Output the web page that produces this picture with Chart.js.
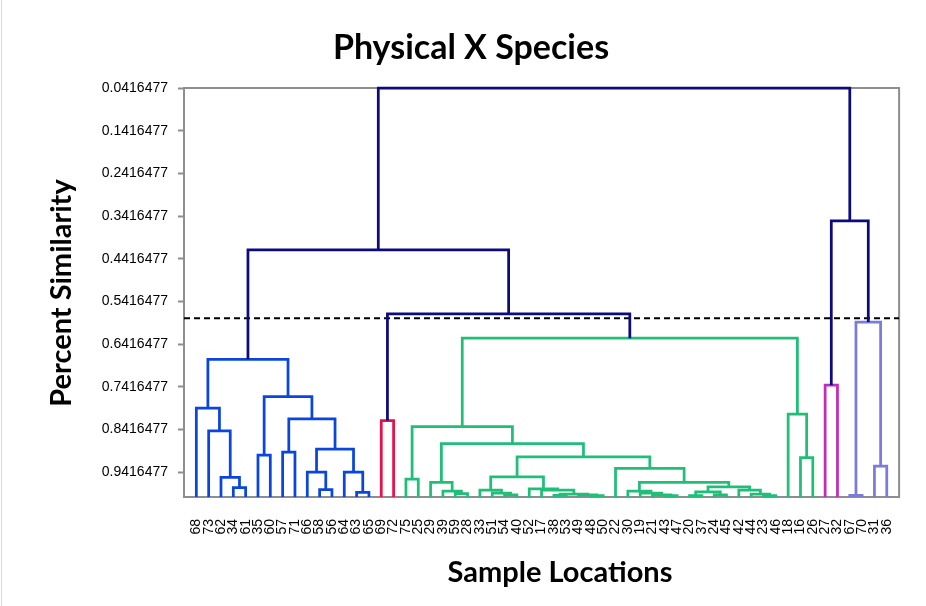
<!DOCTYPE html>
<html>
<head>
<meta charset="utf-8">
<script src="https://cdn.jsdelivr.net/npm/chart.js@4/dist/chart.umd.min.js"></script>
<style>
  body { margin: 0; background: #fff; }
  canvas { display: block; }
</style>
</head>
<body>
<canvas id="dendro" width="926" height="606"></canvas>
<script>
"use strict";

// leaf labels, left to right
const leafLabels = [
  "68", "73", "62", "34", "61", "35", "60", "57", "71", "66", "58", "56", "64", "63", "65",
  "69", "72",
  "75", "25", "29", "39", "59", "28", "33", "51", "54", "40", "52", "17", "38", "53", "49",
  "48", "50", "22", "30", "19", "21", "43", "47", "20", "37", "24", "45", "42", "44", "23",
  "46", "18", "16", "26",
  "27", "32",
  "67", "70", "31", "36"
];

const yTickLabels = [
  "0.0416477", "0.1416477", "0.2416477", "0.3416477", "0.4416477",
  "0.5416477", "0.6416477", "0.7416477", "0.8416477", "0.9416477"
];

// cut line for the clusters
const cutLevel = 0.581;

// merges: [id, left, right, similarity, group]; numbers are leaf positions, strings earlier merges
const merges = [
  ["b1", 4, 5, 0.978, "blue"],
  ["b2", 3, "b1", 0.954, "blue"],
  ["b3", 2, "b2", 0.845, "blue"],
  ["b4", 1, "b3", 0.792, "blue"],
  ["b5", 6, 7, 0.902, "blue"],
  ["b6", 8, 9, 0.895, "blue"],
  ["b7", 11, 12, 0.983, "blue"],
  ["b8", 10, "b7", 0.942, "blue"],
  ["b9", 14, 15, 0.989, "blue"],
  ["b10", 13, "b9", 0.942, "blue"],
  ["b11", "b8", "b10", 0.888, "blue"],
  ["b12", "b6", "b11", 0.817, "blue"],
  ["b13", "b5", "b12", 0.765, "blue"],
  ["b14", "b4", "b13", 0.6775, "blue"],

  ["r1", 16, 17, 0.821, "red"],

  ["g1", 18, 19, 0.958, "green"],
  ["g2", 22, 23, 0.992, "green"],
  ["g3", 21, "g2", 0.986, "green"],
  ["g4", 20, "g3", 0.966, "green"],
  ["g5", 26, 27, 0.995, "green"],
  ["g6", 25, "g5", 0.991, "green"],
  ["g7", 24, "g6", 0.984, "green"],
  ["g8", 30, 31, 0.996, "green"],
  ["g9", 33, 34, 0.997, "green"],
  ["g10", 32, "g9", 0.995, "green"],
  ["g11", "g8", "g10", 0.993, "green"],
  ["g12", 29, "g11", 0.984, "green"],
  ["g13", 28, "g12", 0.981, "green"],
  ["g14", "g7", "g13", 0.953, "green"],
  ["g15", 39, 40, 0.997, "green"],
  ["g16", 38, "g15", 0.995, "green"],
  ["g17", 37, "g16", 0.991, "green"],
  ["g18", 36, "g17", 0.986, "green"],
  ["g19", 41, 42, 0.997, "green"],
  ["g20", 43, 44, 0.995, "green"],
  ["g21", "g19", "g20", 0.988, "green"],
  ["g22", 47, 48, 0.997, "green"],
  ["g23", 46, "g22", 0.993, "green"],
  ["g24", 45, "g23", 0.984, "green"],
  ["g25", "g21", "g24", 0.976, "green"],
  ["g26", "g18", "g25", 0.966, "green"],
  ["g27", 35, "g26", 0.933, "green"],
  ["g28", "g14", "g27", 0.906, "green"],
  ["g29", "g4", "g28", 0.875, "green"],
  ["g30", "g1", "g29", 0.835, "green"],
  ["g31", 50, 51, 0.908, "green"],
  ["g32", 49, "g31", 0.806, "green"],
  ["g33", "g30", "g32", 0.628, "green"],

  ["k1", 52, 53, 0.738, "magenta"],

  ["p1", 54, 55, 0.996, "purple"],
  ["p2", 56, 57, 0.9275, "purple"],
  ["p3", "p1", "p2", 0.590, "purple"],

  ["n1", "r1", "g33", 0.571, "navy"],
  ["n2", "b14", "n1", 0.421, "navy"],
  ["n3", "k1", "p3", 0.353, "navy"],
  ["n4", "n2", "n3", 0.0416477, "navy"]
];

const groupColors = {
  navy: "#0b0b7e",
  blue: "#0a45e0",
  red: "#e8104a",
  green: "#1fbf78",
  magenta: "#c42bb8",
  purple: "#7b7bd8"
};

// build the U shaped links, one dataset per colour, gaps between links
const nodes = {};
const paths = {};
Object.keys(groupColors).forEach(g => paths[g] = []);

function place(c) {
  return typeof c === "number" ? { x: c, h: 1 } : nodes[c];
}

merges.forEach(([id, a, b, h, group]) => {
  const A = place(a), B = place(b);
  nodes[id] = { x: (A.x + B.x) / 2, h: h };
  paths[group].push(
    { x: A.x, y: A.h }, { x: A.x, y: h }, { x: B.x, y: h }, { x: B.x, y: B.h },
    { x: B.x, y: null }
  );
});

const datasets = Object.keys(groupColors).map(g => ({
  label: g,
  data: paths[g],
  borderColor: groupColors[g],
  borderWidth: 2.75,
  pointRadius: 0,
  fill: false,
  tension: 0,
  spanGaps: false,
  clip: false
}));

datasets.push({
  label: "cut",
  data: [{ x: 0, y: cutLevel }, { x: leafLabels.length + 1, y: cutLevel }],
  borderColor: "#000",
  borderWidth: 2,
  borderDash: [6, 4],
  pointRadius: 0,
  fill: false
});

const axisGrey = "#8e8e8e";

// frame of the plot area plus the three titles
const decorations = {
  id: "decorations",
  beforeDatasetsDraw(chart) {
    const { ctx, chartArea: a } = chart;
    ctx.save();
    ctx.strokeStyle = axisGrey;
    ctx.lineWidth = 2;
    ctx.strokeRect(a.left, a.top, a.right - a.left, a.bottom - a.top);

    ctx.fillStyle = "#d9d9d9";
    ctx.fillRect(1, 0, 1, chart.height);

    ctx.fillStyle = "#000";
    ctx.textAlign = "center";
    ctx.textBaseline = "middle";
    ctx.font = "bold 34px Lato";
    ctx.fillText("Physical X Species", 471, 48);

    ctx.font = "bold 29px Lato";
    ctx.fillText("Sample Locations", 560, 573);

    ctx.translate(62, 293);
    ctx.rotate(-Math.PI / 2);
    ctx.fillText("Percent Similarity", 0, 0);
    ctx.restore();
  }
};

new Chart(document.getElementById("dendro"), {
  type: "line",
  data: { datasets: datasets },
  plugins: [decorations],
  options: {
    responsive: false,
    animation: false,
    layout: { padding: { left: 0, right: 24.6, top: 88, bottom: 0 } },
    plugins: {
      legend: { display: false },
      title: { display: false },
      tooltip: { enabled: false }
    },
    scales: {
      x: {
        type: "linear",
        min: 0,
        max: leafLabels.length + 1,
        afterFit: s => { s.height = 109; },
        afterBuildTicks: s => { s.ticks = leafLabels.map((_, i) => ({ value: i + 1 })); },
        grid: { drawOnChartArea: false, drawTicks: false },
        border: { color: axisGrey, width: 2 },
        ticks: {
          autoSkip: false,
          minRotation: 90,
          maxRotation: 90,
          padding: 22,
          color: "#000",
          font: { family: "Liberation Sans", size: 14 },
          callback: v => leafLabels[v - 1]
        }
      },
      y: {
        type: "linear",
        reverse: true,
        min: 0.0416477,
        max: 1,
        afterFit: s => { s.width = 184; },
        afterBuildTicks: s => { s.ticks = yTickLabels.map(t => ({ value: parseFloat(t) })); },
        grid: { drawOnChartArea: false, tickLength: 6, tickColor: axisGrey, tickWidth: 2 },
        border: { color: axisGrey, width: 2 },
        ticks: {
          padding: 10,
          color: "#000",
          font: { family: "Liberation Sans", size: 14 },
          callback: (v, i) => yTickLabels[i]
        }
      }
    }
  }
});
</script>
</body>
</html>
